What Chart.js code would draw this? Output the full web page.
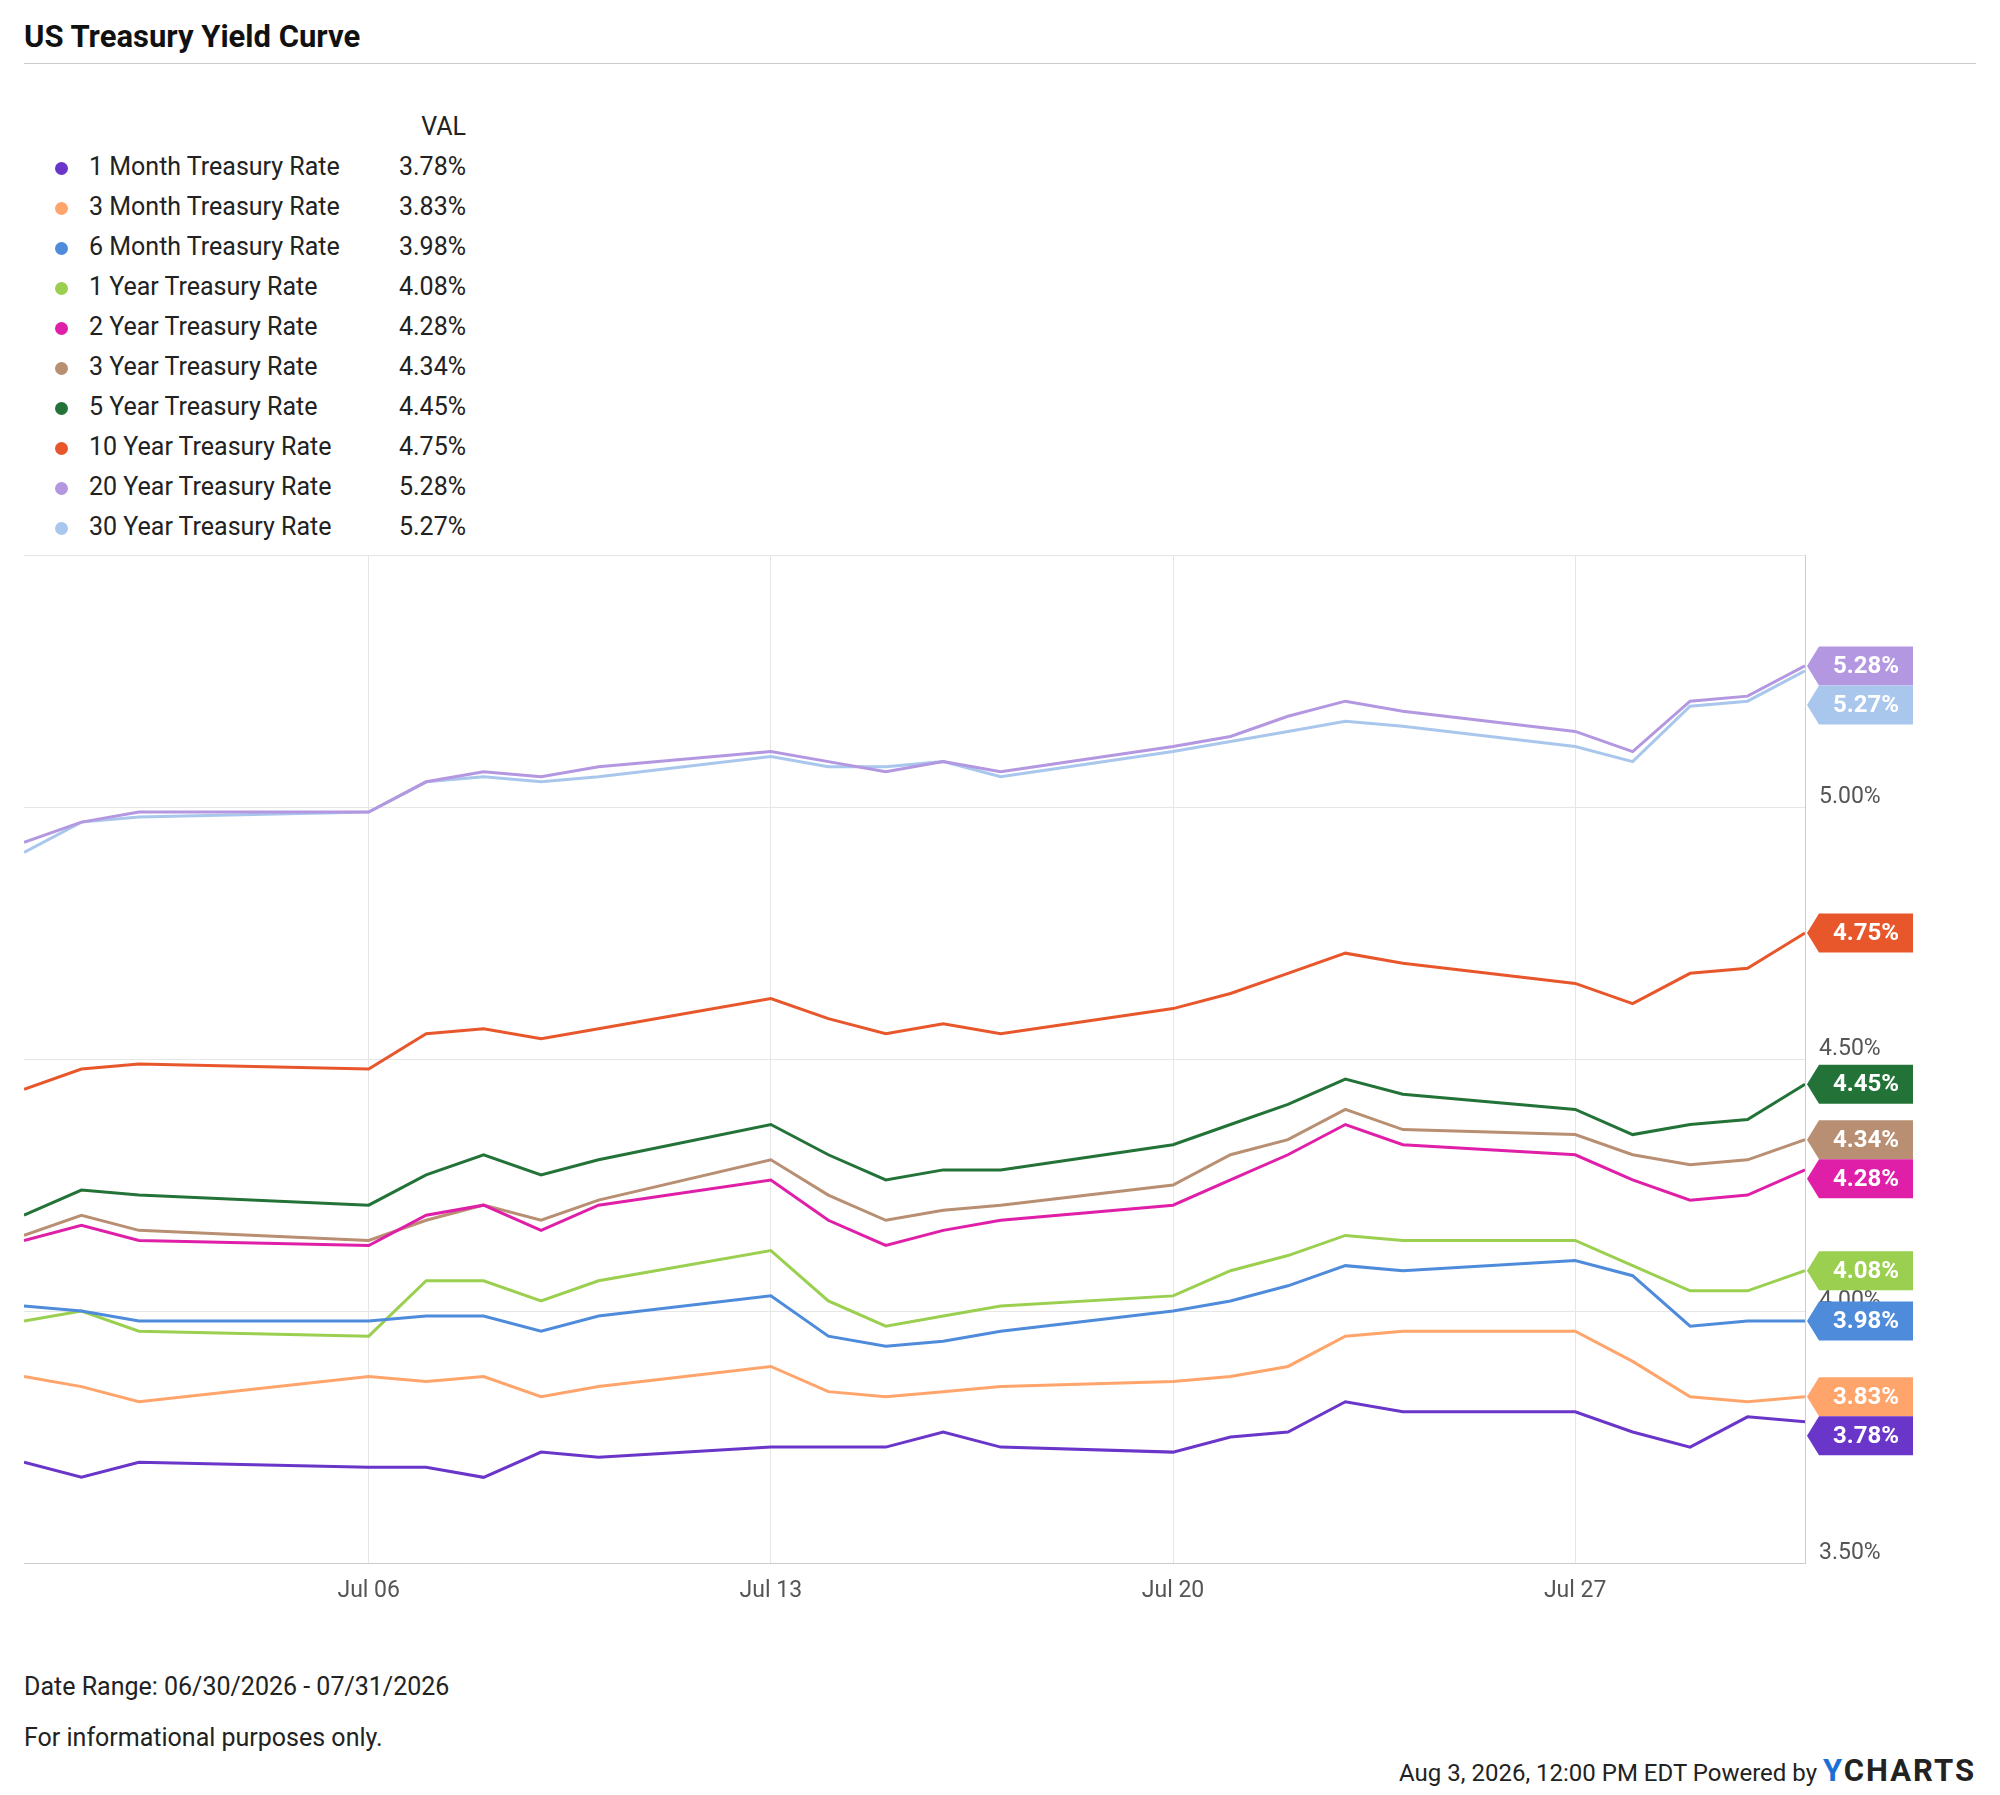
<!DOCTYPE html>
<html><head><meta charset="utf-8">
<script src="https://cdn.jsdelivr.net/npm/chart.js@4"></script>
<style>
body{margin:0;width:2000px;height:1795px;background:#fff;font-family:Roboto,sans-serif;color:#222;position:relative;overflow:hidden}
#title{position:absolute;left:24px;top:18px;font-size:31px;font-weight:bold;color:#111}
#rule{position:absolute;left:24px;top:63px;width:1952px;height:1px;background:#ccc}
#legend{position:absolute;left:0;top:0}
.row{position:absolute;font-size:25px;color:#222;white-space:nowrap}
.dot{position:absolute;width:13px;height:13px;border-radius:50%}
#cv{position:absolute;left:24px;top:555px}
.foot{position:absolute;left:24px;font-size:25px;color:#222}
#stamp{position:absolute;right:24px;top:1752px;font-size:24px;color:#222}
#stamp b{font-size:31px;letter-spacing:2px;color:#222}
#stamp b span{color:#1d6fd8}
</style></head><body>
<div id="title">US Treasury Yield Curve</div>
<div id="rule"></div>
<div id="legend"></div>
<canvas id="cv"></canvas>
<div class="foot" style="top:1672px">Date Range: 06/30/2026 - 07/31/2026</div>
<div class="foot" style="top:1723px">For informational purposes only.</div>
<div id="stamp">Aug 3, 2026, 12:00 PM EDT Powered by <b><span>Y</span>CHARTS</b></div>
<script>
const days = [0,1,2,6,7,8,9,10,13,14,15,16,17,20,21,22,23,24,27,28,29,30,31];
const tickDays = [6,13,20,27];
const tickLabels = ['Jul 06','Jul 13','Jul 20','Jul 27'];
const names = ['1 Month Treasury Rate','3 Month Treasury Rate','6 Month Treasury Rate','1 Year Treasury Rate','2 Year Treasury Rate','3 Year Treasury Rate','5 Year Treasury Rate','10 Year Treasury Rate','20 Year Treasury Rate','30 Year Treasury Rate'];
const colors = ['#6a35c9','#ffa56b','#4f8bdb','#9bcf4f','#e01fa8','#b88f72','#237338','#e8572b','#b397e0','#a9c7ec'];
const m1 = [3.70,3.67,3.70,3.69,3.69,3.67,3.72,3.71,3.73,3.73,3.73,3.76,3.73,3.72,3.75,3.76,3.82,3.80,3.80,3.76,3.73,3.79,3.78];
const m3 = [3.87,3.85,3.82,3.87,3.86,3.87,3.83,3.85,3.89,3.84,3.83,3.84,3.85,3.86,3.87,3.89,3.95,3.96,3.96,3.90,3.83,3.82,3.83];
const m6 = [4.01,4.00,3.98,3.98,3.99,3.99,3.96,3.99,4.03,3.95,3.93,3.94,3.96,4.00,4.02,4.05,4.09,4.08,4.10,4.07,3.97,3.98,3.98];
const y1 = [3.98,4.00,3.96,3.95,4.06,4.06,4.02,4.06,4.12,4.02,3.97,3.99,4.01,4.03,4.08,4.11,4.15,4.14,4.14,4.09,4.04,4.04,4.08];
const y2 = [4.14,4.17,4.14,4.13,4.19,4.21,4.16,4.21,4.26,4.18,4.13,4.16,4.18,4.21,4.26,4.31,4.37,4.33,4.31,4.26,4.22,4.23,4.28];
const y3 = [4.15,4.19,4.16,4.14,4.18,4.21,4.18,4.22,4.30,4.23,4.18,4.20,4.21,4.25,4.31,4.34,4.40,4.36,4.35,4.31,4.29,4.30,4.34];
const y5 = [4.19,4.24,4.23,4.21,4.27,4.31,4.27,4.30,4.37,4.31,4.26,4.28,4.28,4.33,4.37,4.41,4.46,4.43,4.40,4.35,4.37,4.38,4.45];
const y10 = [4.44,4.48,4.49,4.48,4.55,4.56,4.54,4.56,4.62,4.58,4.55,4.57,4.55,4.60,4.63,4.67,4.71,4.69,4.65,4.61,4.67,4.68,4.75];
const y20 = [4.93,4.97,4.99,4.99,5.05,5.07,5.06,5.08,5.11,5.09,5.07,5.09,5.07,5.12,5.14,5.18,5.21,5.19,5.15,5.11,5.21,5.22,5.28];
const y30 = [4.91,4.97,4.98,4.99,5.05,5.06,5.05,5.06,5.10,5.08,5.08,5.09,5.06,5.11,5.13,5.15,5.17,5.16,5.12,5.09,5.20,5.21,5.27];
const yTicks = [3.5,4.0,4.5,5.0];
const series = [m1,m3,m6,y1,y2,y3,y5,y10,y20,y30];

// legend
const lg = document.getElementById('legend');
lg.innerHTML += '<div class="row" style="left:400px;top:112px;width:66px;text-align:right">VAL</div>';
series.forEach((s, i) => {
  const top = 152 + i * 40;
  lg.innerHTML += '<div class="dot" style="left:55px;top:' + (top + 10) + 'px;background:' + colors[i] + '"></div>' +
    '<div class="row" style="left:89px;top:' + top + 'px">' + names[i] + '</div>' +
    '<div class="row" style="left:366px;top:' + top + 'px;width:100px;text-align:right">' + s[s.length - 1].toFixed(2) + '%</div>';
});

const cv = document.getElementById('cv');
cv.width = 1952; cv.height = 1068;
cv.style.width = '1952px'; cv.style.height = '1068px';

const overlay = {
  id: 'overlay',
  afterDraw(chart) {
    const ctx = chart.ctx, ys = chart.scales.y, area = chart.chartArea;
    ctx.save();
    ctx.font = '23px Roboto';
    ctx.fillStyle = '#555';
    ctx.textAlign = 'left';
    ctx.textBaseline = 'middle';
    yTicks.forEach(v => ctx.fillText(v.toFixed(2) + '%', area.right + 14, ys.getPixelForValue(v) - 10));
    // end tags
    const tags = series.map((s, i) => ({ i, v: s[s.length - 1], y: ys.getPixelForValue(s[s.length - 1]) }));
    tags.sort((a, b) => a.y - b.y);
    const h = 39;
    for (let k = 1; k < tags.length; k++) {
      if (tags[k].y - tags[k - 1].y < h) tags[k].y = tags[k - 1].y + h;
    }
    ctx.font = 'bold 24px Roboto';
    ctx.textAlign = 'center';
    tags.forEach(t => {
      const x0 = area.right + 2, x1 = x0 + 106;
      ctx.fillStyle = colors[t.i];
      ctx.beginPath();
      ctx.moveTo(x0, t.y);
      ctx.lineTo(x0 + 12, t.y - h / 2);
      ctx.lineTo(x1, t.y - h / 2);
      ctx.lineTo(x1, t.y + h / 2);
      ctx.lineTo(x0 + 12, t.y + h / 2);
      ctx.closePath();
      ctx.fill();
      ctx.fillStyle = '#fff';
      ctx.fillText(t.v.toFixed(2) + '%', x0 + 59, t.y + 1);
    });
    ctx.restore();
  }
};

new Chart(cv, {
  type: 'line',
  data: {
    datasets: series.map((s, i) => ({
      label: names[i],
      data: s.map((v, k) => ({ x: days[k], y: v })),
      borderColor: colors[i],
      borderWidth: 3,
      pointRadius: 0,
      tension: 0
    }))
  },
  options: {
    responsive: false,
    animation: false,
    plugins: { legend: { display: false }, tooltip: { enabled: false } },
    layout: { padding: 0 },
    scales: {
      x: {
        type: 'linear', min: 0, max: 31,
        afterBuildTicks: sc => { sc.ticks = tickDays.map(v => ({ value: v })); },
        afterFit: sc => { sc.height = 60; },
        ticks: { callback: v => tickLabels[tickDays.indexOf(v)], color: '#555', font: { size: 23, family: 'Roboto' }, padding: 14, maxRotation: 0 },
        grid: { color: '#e6e6e6', drawTicks: false },
        border: { color: '#ccc' }
      },
      y: {
        position: 'right', min: 3.5, max: 5.5,
        afterBuildTicks: sc => { sc.ticks = yTicks.concat([5.5]).map(v => ({ value: v })); },
        afterFit: sc => { sc.width = 171; },
        ticks: { display: false },
        grid: { color: '#e6e6e6', drawTicks: false },
        border: { color: '#ccc' }
      }
    }
  },
  plugins: [overlay]
});
</script>
</body></html>
